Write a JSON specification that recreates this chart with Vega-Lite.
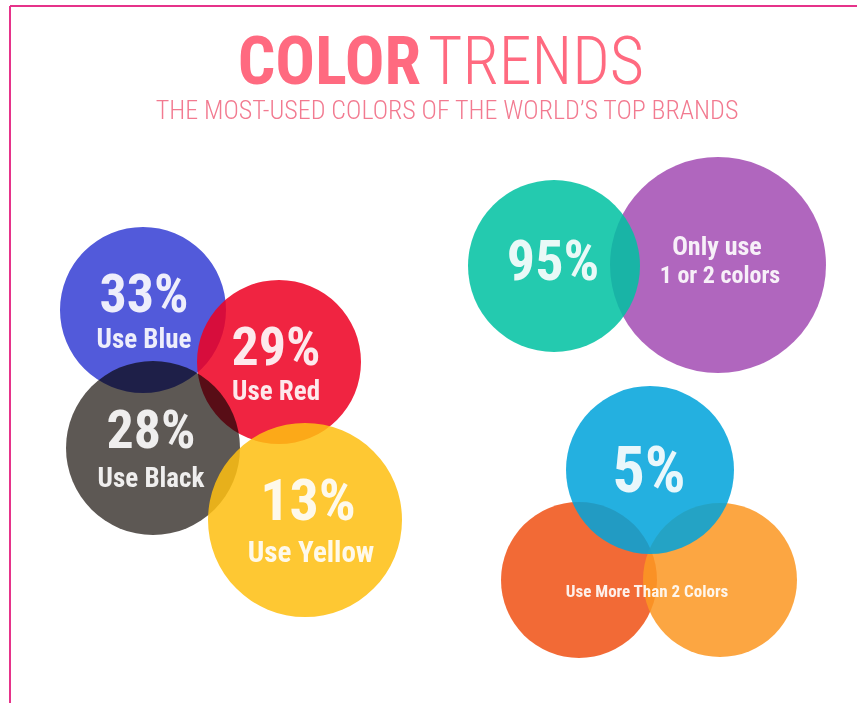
{
  "$schema": "https://vega.github.io/schema/vega-lite/v6.json",
  "width": 857,
  "height": 703,
  "autosize": {"type": "none"},
  "padding": 0,
  "background": "white",
  "config": {"view": {"stroke": null}},
  "datasets": {
    "frame": [
      {"x": 10, "y": 6, "x2": 857, "y2": 6},
      {"x": 10, "y": 6, "x2": 10, "y2": 703}
    ],
    "circles": [
      {"name": "Blue", "x": 143, "y": 310, "r": 83},
      {"name": "Red", "x": 279, "y": 362, "r": 82},
      {"name": "Black", "x": 153, "y": 448, "r": 87},
      {"name": "Yellow", "x": 305, "y": 520, "r": 97},
      {"name": "Purple", "x": 718, "y": 265, "r": 108},
      {"name": "Teal", "x": 554, "y": 266, "r": 86},
      {"name": "OrangeRed", "x": 579, "y": 580, "r": 78},
      {"name": "LightOrange", "x": 720, "y": 580, "r": 77},
      {"name": "Cyan", "x": 650, "y": 470, "r": 84}
    ],
    "labels": [
      {"text": "33%", "x": 144, "y": 312, "role": "pct"},
      {"text": "Use Blue", "x": 144, "y": 348, "role": "label"},
      {"text": "29%", "x": 276, "y": 365, "role": "pct"},
      {"text": "Use Red", "x": 276, "y": 400, "role": "label"},
      {"text": "28%", "x": 151, "y": 448, "role": "pct"},
      {"text": "Use Black", "x": 151, "y": 487, "role": "label"},
      {"text": "13%", "x": 308, "y": 520, "role": "pctL"},
      {"text": "Use Yellow", "x": 311, "y": 562, "role": "labelXL"},
      {"text": "95%", "x": 553, "y": 280, "role": "pctM"},
      {"text": "Only use", "x": 717, "y": 255, "role": "labelM"},
      {"text": "1 or 2 colors", "x": 720, "y": 283, "role": "labelS"},
      {"text": "5%", "x": 649, "y": 492, "role": "pctXL"},
      {"text": "Use More Than 2 Colors", "x": 647, "y": 597, "role": "note"}
    ],
    "title": [
      {"text": "COLOR", "x": 421, "y": 84}
    ],
    "title2": [
      {"text": "TRENDS", "x": 428, "y": 84}
    ],
    "subtitle": [
      {"text": "THE MOST-USED COLORS OF THE WORLD\u2019S TOP BRANDS", "x": 447, "y": 119}
    ]
  },
  "resolve": {"scale": {"size": "independent", "color": "independent"}},
  "layer": [
    {
      "data": {"name": "frame"},
      "mark": {"type": "rule", "color": "#e6338a", "strokeWidth": 2},
      "encoding": {
        "x": {"field": "x", "type": "quantitative", "scale": {"domain": [0, 857]}, "axis": null},
        "y": {"field": "y", "type": "quantitative", "scale": {"domain": [0, 703], "reverse": true}, "axis": null},
        "x2": {"field": "x2"},
        "y2": {"field": "y2"}
      }
    },
    {
      "data": {"name": "circles"},
      "transform": [{"filter": {"field": "name", "oneOf": ["Blue", "Red"]}}],
      "mark": {"type": "circle", "opacity": 0.86},
      "encoding": {
        "x": {"field": "x", "type": "quantitative", "scale": {"domain": [0, 857]}, "axis": null},
        "y": {"field": "y", "type": "quantitative", "scale": {"domain": [0, 703], "reverse": true}, "axis": null},
        "size": {"field": "r", "type": "quantitative", "scale": {"type": "pow", "exponent": 2, "domain": [0, 100], "range": [0, 40000], "zero": true}, "legend": null},
        "color": {"field": "name", "type": "nominal", "legend": null,
          "scale": {"domain": ["Blue", "Red"], "range": ["#363fd4", "#ee0022"]}
        }
      }
    },
    {
      "data": {"name": "circles"},
      "transform": [{"filter": {"field": "name", "oneOf": ["Black"]}}],
      "mark": {"type": "circle", "opacity": 1, "blend": "multiply"},
      "encoding": {
        "x": {"field": "x", "type": "quantitative", "scale": {"domain": [0, 857]}, "axis": null},
        "y": {"field": "y", "type": "quantitative", "scale": {"domain": [0, 703], "reverse": true}, "axis": null},
        "size": {"field": "r", "type": "quantitative", "scale": {"type": "pow", "exponent": 2, "domain": [0, 100], "range": [0, 40000], "zero": true}, "legend": null},
        "color": {"field": "name", "type": "nominal", "legend": null,
          "scale": {"domain": ["Black"], "range": ["#5d5854"]}
        }
      }
    },
    {
      "data": {"name": "circles"},
      "transform": [{"filter": {"field": "name", "oneOf": ["Yellow", "Purple", "Teal", "OrangeRed", "LightOrange", "Cyan"]}}],
      "mark": {"type": "circle", "opacity": 0.86},
      "encoding": {
        "x": {"field": "x", "type": "quantitative", "scale": {"domain": [0, 857]}, "axis": null},
        "y": {"field": "y", "type": "quantitative", "scale": {"domain": [0, 703], "reverse": true}, "axis": null},
        "size": {"field": "r", "type": "quantitative", "scale": {"type": "pow", "exponent": 2, "domain": [0, 100], "range": [0, 40000], "zero": true}, "legend": null},
        "color": {"field": "name", "type": "nominal", "legend": null,
          "scale": {
            "domain": ["Yellow", "Purple", "Teal", "OrangeRed", "LightOrange", "Cyan"],
            "range": ["#febf11", "#a34db3", "#00c1a2", "#f05215", "#fb9723", "#00a3db"]
          }
        }
      }
    },
    {
      "data": {"name": "labels"},
      "mark": {"type": "text", "align": "center", "baseline": "alphabetic", "color": "#ffffff", "opacity": 0.9, "fontWeight": "bold", "font": "Roboto Condensed, Liberation Sans Narrow, DejaVu Sans Condensed, sans-serif"},
      "encoding": {
        "x": {"field": "x", "type": "quantitative", "scale": {"domain": [0, 857]}, "axis": null},
        "y": {"field": "y", "type": "quantitative", "scale": {"domain": [0, 703], "reverse": true}, "axis": null},
        "text": {"field": "text"},
        "size": {"field": "role", "type": "nominal", "legend": null,
          "scale": {"type": "ordinal", "domain": ["pctXL", "pctL", "pctM", "pct", "labelXL", "label", "labelM", "labelS", "note"], "range": [64, 58, 56, 54, 29, 27, 26, 24, 17]}}
      }
    },
    {
      "data": {"name": "title"},
      "mark": {"type": "text", "align": "right", "baseline": "alphabetic", "color": "#ff6a80", "fontSize": 66, "fontWeight": "bold", "font": "Roboto Condensed, Liberation Sans Narrow, DejaVu Sans Condensed, sans-serif"},
      "encoding": {
        "x": {"field": "x", "type": "quantitative", "scale": {"domain": [0, 857]}, "axis": null},
        "y": {"field": "y", "type": "quantitative", "scale": {"domain": [0, 703], "reverse": true}, "axis": null},
        "text": {"field": "text"}
      }
    },
    {
      "data": {"name": "title2"},
      "mark": {"type": "text", "align": "left", "baseline": "alphabetic", "color": "#ff6a80", "fontSize": 66, "fontWeight": 300, "font": "Roboto Condensed, Liberation Sans Narrow, DejaVu Sans Condensed, sans-serif"},
      "encoding": {
        "x": {"field": "x", "type": "quantitative", "scale": {"domain": [0, 857]}, "axis": null},
        "y": {"field": "y", "type": "quantitative", "scale": {"domain": [0, 703], "reverse": true}, "axis": null},
        "text": {"field": "text"}
      }
    },
    {
      "data": {"name": "subtitle"},
      "mark": {"type": "text", "align": "center", "baseline": "alphabetic", "color": "#f27a90", "fontSize": 26, "fontWeight": 300, "font": "Roboto Condensed, Liberation Sans Narrow, DejaVu Sans Condensed, sans-serif"},
      "encoding": {
        "x": {"field": "x", "type": "quantitative", "scale": {"domain": [0, 857]}, "axis": null},
        "y": {"field": "y", "type": "quantitative", "scale": {"domain": [0, 703], "reverse": true}, "axis": null},
        "text": {"field": "text"}
      }
    }
  ]
}
